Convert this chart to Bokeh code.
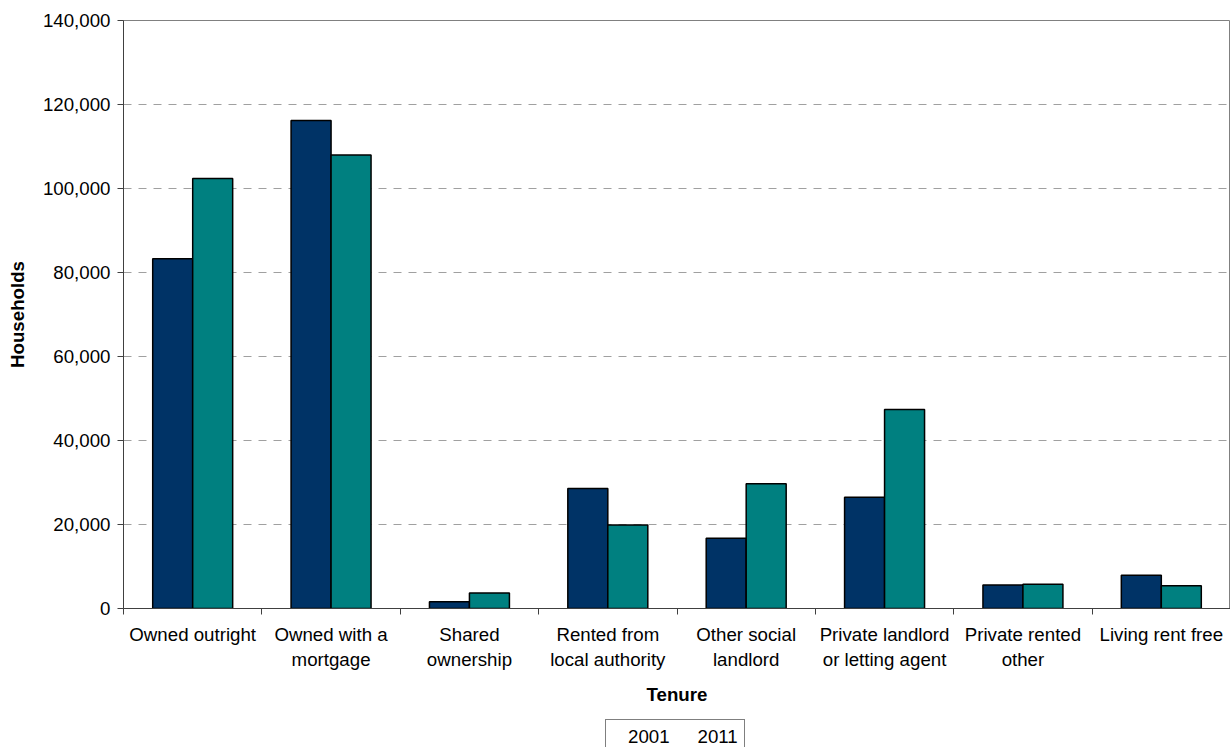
import numpy as np
from bokeh.plotting import figure
from bokeh.layouts import column
from bokeh.models import (Range1d, FixedTicker, NumeralTickFormatter, Legend, LegendItem,
                          ColumnDataSource, CDSView, IndexFilter)
from bokeh.embed import file_html
from bokeh.resources import INLINE

categories = ["Owned outright", "Owned with a\nmortgage", "Shared\nownership",
              "Rented from\nlocal authority", "Other social\nlandlord",
              "Private landlord\nor letting agent", "Private rented\nother", "Living rent free"]
values_2001 = [83300, 116200, 1600, 28600, 16700, 26500, 5600, 7900]
values_2011 = [102400, 108000, 3700, 19900, 29700, 47400, 5800, 5400]
series_names = ["2001", "2011"]
y_ticks = [0, 20000, 40000, 60000, 80000, 100000, 120000, 140000]

FONT = "Liberation Sans"
FS = "18.7px"
C2001 = "#003366"
C2011 = "#008080"

n = len(categories)
centers = np.arange(n) + 0.5
bar_w = 0.289

p = figure(width=1230, height=708, output_backend="svg", toolbar_location=None,
           x_range=Range1d(0, n), y_range=Range1d(0, 140000),
           min_border_left=123, min_border_right=0, min_border_top=20, min_border_bottom=100)
p.background_fill_color = "white"
p.border_fill_color = "white"
p.outline_line_color = "#808080"
p.outline_line_width = 1

src = ColumnDataSource(dict(x1=centers - bar_w / 2, x2=centers + bar_w / 2,
                            v1=values_2001, v2=values_2011))
bar_style = dict(width=bar_w, bottom=0, source=src, line_color="black", line_width=1.5)
p.vbar(x="x1", top="v1", fill_color=C2001, **bar_style)
p.vbar(x="x2", top="v2", fill_color=C2011, **bar_style)

# x axis
xa = p.xaxis[0]
xa.ticker = FixedTicker(ticks=list(centers), minor_ticks=list(range(n + 1)))
xa.major_label_overrides = {float(c): lab for c, lab in zip(centers, categories)}
xa.major_tick_line_color = None
xa.minor_tick_line_color = "#404040"
xa.minor_tick_out = 6
xa.minor_tick_in = 0
xa.axis_line_color = "#404040"
xa.major_label_text_font = FONT
xa.major_label_text_font_size = FS
xa.major_label_text_color = "black"
xa.major_label_standoff = 9
xa.axis_label = "Tenure"
xa.axis_label_text_font = FONT
xa.axis_label_text_font_size = FS
xa.axis_label_text_font_style = "bold"
xa.axis_label_text_color = "black"
xa.axis_label_standoff = 11

# y axis
ya = p.yaxis[0]
ya.ticker = FixedTicker(ticks=y_ticks)
ya.formatter = NumeralTickFormatter(format="0,0")
ya.minor_tick_line_color = None
ya.major_tick_out = 6
ya.major_tick_in = 0
ya.major_tick_line_color = "#404040"
ya.axis_line_color = "#404040"
ya.major_label_text_font = FONT
ya.major_label_text_font_size = FS
ya.major_label_text_color = "black"
ya.major_label_standoff = 7
ya.axis_label = "Households"
ya.axis_label_text_font = FONT
ya.axis_label_text_font_size = FS
ya.axis_label_text_font_style = "bold"
ya.axis_label_text_color = "black"
ya.axis_label_standoff = 12

p.xgrid.grid_line_color = None
p.ygrid.ticker = FixedTicker(ticks=y_ticks)
p.ygrid.grid_line_color = "#a0a0a0"
p.ygrid.grid_line_dash = "8 7"
p.ygrid.grid_line_width = 1

# legend strip below the chart (legend proxies share the bar styles but draw no data)
lg = figure(width=1230, height=39, output_backend="svg", toolbar_location=None,
            x_range=Range1d(100, 100 + n), y_range=Range1d(0, 140000),
            x_axis_type=None, y_axis_type=None, min_border=0)
lg.outline_line_color = None
lg.xgrid.grid_line_color = None
lg.ygrid.grid_line_color = None
lg.border_fill_color = "white"
empty_view = CDSView(filter=IndexFilter(indices=[]))
lr1 = lg.vbar(x="x1", top="v1", fill_color=C2001, view=empty_view, **bar_style)
lr2 = lg.vbar(x="x2", top="v2", fill_color=C2011, view=CDSView(filter=IndexFilter(indices=[])),
              **bar_style)

legend = Legend(items=[LegendItem(label=series_names[0], renderers=[lr1]),
                       LegendItem(label=series_names[1], renderers=[lr2])],
                orientation="horizontal", location=(482, -8),
                label_text_font=FONT, label_text_font_size=FS, label_text_color="black",
                glyph_width=13, glyph_height=13, label_standoff=3, spacing=12,
                label_height=19, padding=6, margin=0,
                border_line_color="black", border_line_width=1,
                background_fill_color="white", background_fill_alpha=1)
lg.add_layout(legend, "center")

layout = column(p, lg, spacing=0)
open("out.html", "w").write(file_html(layout, INLINE))
